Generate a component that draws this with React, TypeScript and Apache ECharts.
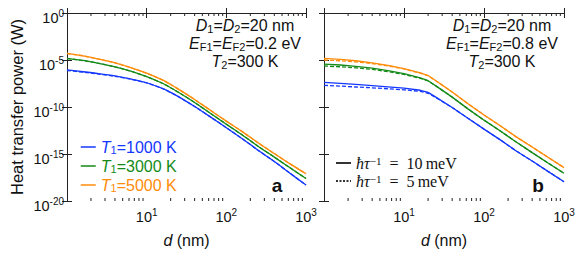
import React, { useEffect, useRef } from 'react';
import * as echarts from 'echarts';

// Separation d (nm)
const D_NM = [1, 1.6, 2.5, 4, 6.3, 10, 16, 20, 25, 40, 63, 100, 160, 250, 400, 630, 1000];

// log10 of heat transfer power (W) — panel a (EF = 0.2 eV)
const A_T1000_10 = [-6.06, -6.25, -6.45, -6.7, -7.02, -7.42, -8.05, -8.45, -8.9, -9.95, -11.05, -12.2, -13.4, -14.6, -15.8, -17.05, -18.3];
const A_T3000_10 = [-4.82, -5.05, -5.35, -5.72, -6.18, -6.77, -7.5, -7.95, -8.43, -9.52, -10.67, -11.83, -13.0, -14.17, -15.33, -16.47, -17.6];
const A_T5000_10 = [-4.29, -4.55, -4.9, -5.3, -5.8, -6.4, -7.15, -7.6, -8.1, -9.2, -10.35, -11.5, -12.65, -13.8, -14.95, -16.05, -17.1];
const A_T1000_5 = [-6.12, -6.3, -6.5, -6.74, -7.05, -7.44, -8.06, -8.46, -8.9, -9.95, -11.05, -12.2, -13.4, -14.6, -15.8, -17.05, -18.3];
const A_T3000_5 = [-4.84, -5.07, -5.36, -5.73, -6.19, -6.78, -7.5, -7.95, -8.43, -9.52, -10.67, -11.83, -13.0, -14.17, -15.33, -16.47, -17.6];
const A_T5000_5 = [-4.31, -4.57, -4.91, -5.31, -5.81, -6.41, -7.15, -7.6, -8.1, -9.2, -10.35, -11.5, -12.65, -13.8, -14.95, -16.05, -17.1];

// panel b (EF = 0.8 eV)
const B_T1000_10 = [-7.37, -7.49, -7.6, -7.72, -7.85, -8.0, -8.22, -8.44, -8.95, -10.05, -11.2, -12.35, -13.5, -14.65, -15.75, -16.85, -17.95];
const B_T3000_10 = [-5.43, -5.53, -5.67, -5.87, -6.13, -6.46, -6.9, -7.2, -7.75, -8.95, -10.2, -11.4, -12.55, -13.7, -14.85, -15.95, -17.05];
const B_T5000_10 = [-4.82, -4.93, -5.08, -5.3, -5.58, -5.92, -6.38, -6.65, -7.2, -8.4, -9.65, -10.85, -12.0, -13.15, -14.25, -15.35, -16.45];
const B_T1000_5 = [-7.69, -7.78, -7.87, -7.96, -8.06, -8.17, -8.34, -8.54, -9.0, -10.05, -11.2, -12.35, -13.5, -14.65, -15.75, -16.85, -17.95];
const B_T3000_5 = [-5.64, -5.72, -5.83, -6.0, -6.24, -6.54, -6.95, -7.23, -7.75, -8.95, -10.2, -11.4, -12.55, -13.7, -14.85, -15.95, -17.05];
const B_T5000_5 = [-5.0, -5.08, -5.2, -5.38, -5.63, -5.95, -6.4, -6.66, -7.2, -8.4, -9.65, -10.85, -12.0, -13.15, -14.25, -15.35, -16.45];

const MINOR_TICKS_NM = [2, 3, 4, 5, 6, 7, 8, 9, 20, 30, 40, 50, 60, 70, 80, 90, 200, 300, 400, 500, 600, 700, 800, 900];
const X_LABEL_EXPONENTS = [1, 2, 3];

const NAMES = ['T1=1000 K', 'T1=3000 K', 'T1=5000 K'];
const TAU_NAMES = ['hbar tau^-1 = 10 meV', 'hbar tau^-1 = 5 meV'];

const BLUE = '#1438ff';
const GREEN = '#158a18';
const ORANGE = '#ff8c0a';
const COLORS = [BLUE, GREEN, ORANGE];
const FONT = '"Liberation Sans", Arial, Helvetica, sans-serif';
const SERIF = '"Liberation Serif", "Times New Roman", serif';
const AX = '#222';
const FS = 16;

export default function App() {
  const ref = useRef<HTMLDivElement>(null);
  useEffect(() => {
    if (!ref.current) return;
    const chart = echarts.init(ref.current, undefined, { renderer: 'svg' });

    const toData = (vals: number[]) => D_NM.map((d, i) => [Math.log10(d), vals[i]]);
    const line = (name: string, vals: number[], color: string, dashed: boolean, idx: number, smooth: number) => ({
      type: 'line',
      name,
      xAxisIndex: idx,
      yAxisIndex: idx,
      data: toData(vals),
      symbol: 'none',
      showSymbol: false,
      smooth,
      z: dashed ? 3 : 2,
      itemStyle: { color },
      lineStyle: { color, width: 1.3, type: dashed ? [4, 2] : 'solid' },
      emphasis: { disabled: true },
    });

    const minorTicks = (idx: number) => ({
      type: 'custom',
      xAxisIndex: idx,
      yAxisIndex: idx,
      silent: true,
      clip: false,
      data: MINOR_TICKS_NM.map((v) => [Math.log10(v), -10]),
      renderItem: (_p: any, api: any) => {
        const xv = api.value(0);
        const b = api.coord([xv, -20]);
        const t = api.coord([xv, 0]);
        return {
          type: 'group',
          children: [
            { type: 'line', shape: { x1: b[0], y1: b[1], x2: b[0], y2: b[1] - 3 }, style: { stroke: AX, lineWidth: 1 } },
            { type: 'line', shape: { x1: t[0], y1: t[1], x2: t[0], y2: t[1] + 3 }, style: { stroke: AX, lineWidth: 1 } },
          ],
        };
      },
    });

    const supRich = {
      b: { fontSize: 14.5, lineHeight: 20, fontFamily: FONT, color: '#111' },
      s: { fontSize: 10, lineHeight: 8, verticalAlign: 'top', fontFamily: FONT, color: '#111' },
    };

    const xAxisBottom = (grid: number) => ({
      gridIndex: grid,
      type: 'value',
      min: 0,
      max: 3,
      interval: 1,
      position: 'bottom',
      axisLine: { show: true, lineStyle: { color: AX, width: 1 } },
      axisTick: { show: true, inside: true, length: 5, lineStyle: { color: AX } },
      splitLine: { show: false },
      axisLabel: {
        margin: 6,
        fontSize: 14.5,
        fontFamily: FONT,
        formatter: (v: number) => (X_LABEL_EXPONENTS.includes(v) ? `{b|10}{s|${v}}` : ''),
        rich: supRich,
      },
      name: '{i|d} (nm)',
      nameLocation: 'middle',
      nameGap: 31,
      nameMoveOverlap: false,
      nameTextStyle: {
        fontFamily: FONT,
        fontSize: FS,
        color: '#111',
        rich: { i: { fontStyle: 'italic', fontSize: FS, fontFamily: FONT, color: '#111' } },
      },
    });
    const xAxisTop = (grid: number) => ({
      gridIndex: grid,
      type: 'value',
      min: 0,
      max: 3,
      interval: 1,
      position: 'top',
      axisLine: { show: true, lineStyle: { color: AX, width: 1 } },
      axisTick: { show: true, inside: true, length: 5, lineStyle: { color: AX } },
      splitLine: { show: false },
      axisLabel: { show: false },
    });
    const yAxis = (grid: number, pos: 'left' | 'right', labels: boolean) => ({
      gridIndex: grid,
      type: 'value',
      min: -20,
      max: 0,
      interval: 5,
      position: pos,
      axisLine: { show: true, lineStyle: { color: AX, width: 1 } },
      axisTick: { show: true, inside: true, length: 5, lineStyle: { color: AX } },
      splitLine: { show: false },
      axisLabel: labels
        ? {
            margin: 3,
            fontSize: 14.5,
            fontFamily: FONT,
            padding: [10, 0, 0, 0],
            formatter: (v: number) => `{b|10}{s|${v}}`,
            rich: supRich,
          }
        : { show: false },
      ...(labels
        ? {
            name: 'Heat transfer power (W)',
            nameLocation: 'middle',
            nameGap: 42,
            nameMoveOverlap: false,
            nameTextStyle: { fontFamily: FONT, fontSize: 16.5, color: '#111' },
          }
        : {}),
    });

    const legendRich: any = {};
    COLORS.forEach((c, k) => {
      legendRich['t' + k] = { color: c, fontStyle: 'italic', fontSize: FS, lineHeight: 16, fontFamily: FONT };
      legendRich['s' + k] = { color: c, fontSize: 11, lineHeight: 10, verticalAlign: 'bottom', fontFamily: FONT };
      legendRich['n' + k] = { color: c, fontSize: FS, lineHeight: 16, fontFamily: FONT };
    });

    const annot = (x: number, y: number, text: string) => ({
      type: 'text',
      x,
      y,
      silent: true,
      style: {
        text,
        align: 'center',
        verticalAlign: 'middle',
        textAlign: 'center',
        textVerticalAlign: 'middle',
        fill: '#111',
        font: `${FS}px ${FONT}`,
        rich: {
          i: { fontStyle: 'italic', fontSize: FS, lineHeight: 18, fontFamily: FONT, fill: '#111' },
          n: { fontSize: FS, lineHeight: 18, fontFamily: FONT, fill: '#111' },
          s: { fontSize: 11, lineHeight: 11, verticalAlign: 'bottom', fontFamily: FONT, fill: '#111' },
        },
      },
    });

    const panelText = (cx: number, ef: string) => [
      annot(cx, 25, '{i|D}{s|1}{n|=}{i|D}{s|2}{n|=20 nm}'),
      annot(cx, 43, `{i|E}{s|F1}{n|=}{i|E}{s|F2}{n|=${ef} eV}`),
      annot(cx, 61, '{i|T}{s|2}{n|=300 K}'),
    ];

    const option: any = {
      animation: false,
      backgroundColor: '#fff',
      textStyle: { fontFamily: FONT },
      grid: [
        { left: 67, top: 13, width: 239, height: 188, outerBoundsMode: 'none', containLabel: false },
        { left: 324, top: 13, width: 240, height: 188, outerBoundsMode: 'none', containLabel: false },
      ],
      xAxis: [xAxisBottom(0), xAxisTop(0), xAxisBottom(1), xAxisTop(1)],
      yAxis: [yAxis(0, 'left', true), yAxis(0, 'right', false), yAxis(1, 'left', false), yAxis(1, 'right', false)],
      legend: [
        {
          selectedMode: false,
          orient: 'vertical',
          left: 80,
          top: 139,
          padding: 0,
          itemWidth: 15,
          itemHeight: 14,
          itemGap: 3,
          itemStyle: { opacity: 0 },
          lineStyle: { type: 'solid', width: 1.5 },
          data: NAMES,
          formatter: (n: string) => {
            const k = NAMES.indexOf(n);
            return `{t${k}|T}{s${k}|1}{n${k}|=${n.split('=')[1]}}`;
          },
          textStyle: { fontFamily: FONT, fontSize: FS, rich: legendRich },
        },
        {
          selectedMode: false,
          orient: 'vertical',
          left: 335,
          top: 155,
          padding: 0,
          itemWidth: 15,
          itemHeight: 14,
          itemGap: 2,
          itemStyle: { opacity: 0 },
          data: TAU_NAMES,
          formatter: (n: string) =>
            n === TAU_NAMES[0] ? '{i|ħτ}{s|−1}{n|\u2002=\u200210\u2009meV}' : '{i|ħτ}{s|−1}{n|\u2002=\u20025\u2009meV}',
          textStyle: {
            fontFamily: SERIF,
            fontSize: FS,
            color: '#111',
            rich: {
              i: { fontStyle: 'italic', fontFamily: SERIF, fontSize: FS, lineHeight: 16, color: '#111' },
              s: { fontFamily: SERIF, fontSize: 11, lineHeight: 8, verticalAlign: 'top', color: '#111' },
              n: { fontFamily: SERIF, fontSize: FS, lineHeight: 16, color: '#111' },
            },
          },
        },
      ],
      series: [
        line(NAMES[0], A_T1000_10, BLUE, false, 0, 0.3),
        line(NAMES[1], A_T3000_10, GREEN, false, 0, 0.3),
        line(NAMES[2], A_T5000_10, ORANGE, false, 0, 0.3),
        line(NAMES[0], A_T1000_5, BLUE, true, 0, 0.3),
        line(NAMES[1], A_T3000_5, GREEN, true, 0, 0.3),
        line(NAMES[2], A_T5000_5, ORANGE, true, 0, 0.3),
        line(NAMES[0], B_T1000_10, BLUE, false, 2, 0),
        line(NAMES[1], B_T3000_10, GREEN, false, 2, 0),
        line(NAMES[2], B_T5000_10, ORANGE, false, 2, 0),
        line(NAMES[0], B_T1000_5, BLUE, true, 2, 0),
        line(NAMES[1], B_T3000_5, GREEN, true, 2, 0),
        line(NAMES[2], B_T5000_5, ORANGE, true, 2, 0),
        { ...line(TAU_NAMES[0], [], '#333', false, 2, 0), data: [], lineStyle: { color: '#333', width: 1.8, type: 'solid' } },
        { ...line(TAU_NAMES[1], [], '#333', true, 2, 0), data: [], lineStyle: { color: '#333', width: 1.3, type: [2, 1.5] } },
        minorTicks(0),
        minorTicks(2),
      ],
      graphic: [
        ...panelText(245, '0.2'),
        ...panelText(502, '0.8'),
        {
          type: 'text',
          x: 277,
          y: 185,
          silent: true,
          style: { text: 'a', font: `bold 19px ${FONT}`, fill: '#111', align: 'center', verticalAlign: 'middle', textAlign: 'center', textVerticalAlign: 'middle' },
        },
        {
          type: 'text',
          x: 538,
          y: 185,
          silent: true,
          style: { text: 'b', font: `bold 19px ${FONT}`, fill: '#111', align: 'center', verticalAlign: 'middle', textAlign: 'center', textVerticalAlign: 'middle' },
        },
      ],
    };
    chart.setOption(option);
    return () => chart.dispose();
  }, []);
  return <div ref={ref} style={{ position: 'fixed', left: 0, top: 0, width: 581, height: 255 }} />;
}
